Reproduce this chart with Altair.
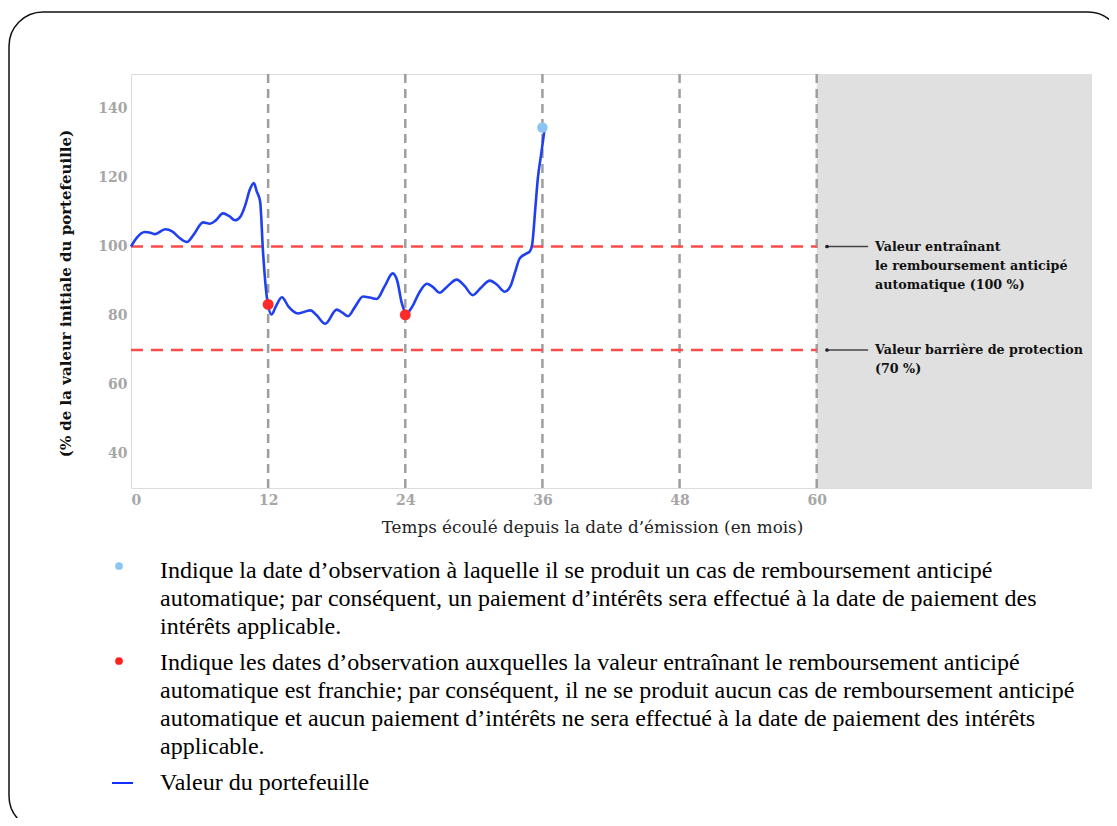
import altair as alt
import pandas as pd

# ---- data ----
months = [0, 0.5, 1.2, 1.7, 2.1, 3.0, 3.6, 4.2, 4.9, 5.5, 6.3, 6.9, 7.4, 8.05, 8.6, 9.1, 9.6,
          10.0, 10.4, 10.75, 11.0, 11.3, 11.55, 11.9, 12.3, 12.7, 13.2, 13.8, 14.6, 15.7, 16.2,
          17.0, 18.0, 18.5, 19.0, 19.6, 20.3, 20.9, 21.5, 22.2, 22.9, 23.3, 23.7, 24.1, 24.6,
          25.2, 25.9, 26.5, 27.0, 27.7, 28.5, 29.2, 29.9, 30.6, 31.4, 32.0, 32.7, 33.2, 33.6,
          34.0, 34.5, 34.9, 35.1, 35.4, 35.6, 35.9, 36.2]
values = [100, 102.5, 104.2, 104.0, 103.6, 105.0, 104.4, 102.6, 101.3, 103.5, 107.0, 106.6, 107.5,
          109.6, 108.8, 107.6, 108.8, 112, 116.5, 118.4, 116, 113, 98.5, 85, 80.3, 82.8, 85.3,
          82.5, 80.6, 81.5, 80.2, 77.6, 81.7, 80.8, 79.8, 82.5, 85.5, 85.2, 84.8, 88.5, 92.2, 90,
          83.5, 80.6, 82.5, 86.5, 89.2, 88, 86.6, 88.5, 90.4, 88.5, 85.9, 88, 90.1, 89, 86.9,
          88.5, 92.5, 96.5, 97.8, 98.6, 100.5, 112, 119.8, 127, 134.3]

red_obs_x = [12, 24]
red_obs_y = [83.2, 80.2]
blue_obs_x = [36]
blue_obs_y = [134.5]

observation_dates = [12, 24, 36, 48, 60]
thresholds = [100, 70]
threshold_labels = ["Valeur entraînant\nle remboursement anticipé\nautomatique (100 %)",
                    "Valeur barrière de protection\n(70 %)"]
leader_start = 60.9
leader_end = 64.5
label_x = 65.1

x_ticks = [0, 12, 24, 36, 48, 60]
y_ticks = [40, 60, 80, 100, 120, 140]
x_domain = [0, 84]
y_domain = [30, 150]
shade_start, shade_end = 60, 84

legend_items = [
    ["Indique la date d\u2019observation à laquelle il se produit un cas de remboursement anticipé",
     "automatique; par conséquent, un paiement d\u2019intérêts sera effectué à la date de paiement des",
     "intérêts applicable."],
    ["Indique les dates d\u2019observation auxquelles la valeur entraînant le remboursement anticipé",
     "automatique est franchie; par conséquent, il ne se produit aucun cas de remboursement anticipé",
     "automatique et aucun paiement d\u2019intérêts ne sera effectué à la date de paiement des intérêts",
     "applicable."],
    ["Valeur du portefeuille"],
]

# ---- layout constants (pixels) ----
W, H = 960, 414
LEG_TOP = 497      # first legend line centre, relative to plot top
LEG_LINE = 28
LEG_GAP = 8
LEG_TEXT_X = 29

line_df = pd.DataFrame({"m": months, "v": values})
red_df = pd.DataFrame({"m": red_obs_x, "v": red_obs_y})
blue_df = pd.DataFrame({"m": blue_obs_x, "v": blue_obs_y})
obs_df = pd.DataFrame({"m": observation_dates})
thr_df = pd.DataFrame({"v": thresholds, "label": threshold_labels,
                       "x0": [0] * len(thresholds), "x1": [shade_start] * len(thresholds),
                       "l0": [leader_start] * len(thresholds), "l1": [leader_end] * len(thresholds),
                       "lx": [label_x] * len(thresholds)})
shade_df = pd.DataFrame({"a": [shade_start], "b": [shade_end]})

rows = []
y = LEG_TOP
item_y = []
for item in legend_items:
    item_y.append(y)
    for ln in item:
        rows.append({"t": ln, "py": y})
        y += LEG_LINE
    y += LEG_GAP
leg_df = pd.DataFrame(rows)

xs = alt.Scale(domain=x_domain, nice=False, zero=False)
ys = alt.Scale(domain=y_domain, nice=False, zero=False)

X = alt.X("m:Q", scale=xs,
          axis=alt.Axis(values=x_ticks, title="Temps écoulé depuis la date d\u2019émission (en mois)",
                        grid=False, ticks=False, domain=False, labelPadding=5,
                        labelFont="DejaVu Serif", labelFontWeight="bold", labelFontSize=14,
                        labelColor="#a6a6a6",
                        titleFont="DejaVu Serif", titleFontWeight="normal", titleFontSize=16.8,
                        titleColor="#222222", titleX=461, titleY=39, titleBaseline="middle",
                        titleAlign="center"))
Y = alt.Y("v:Q", scale=ys,
          axis=alt.Axis(values=y_ticks, title="(% de la valeur initiale du portefeuille)",
                        grid=False, ticks=False, domain=False, labelPadding=4,
                        labelFont="DejaVu Serif", labelFontWeight="bold", labelFontSize=14,
                        labelColor="#a6a6a6",
                        titleFont="DejaVu Serif", titleFontWeight="bold", titleFontSize=15,
                        titleColor="#111111", titleX=-66, titleY=219, titleBaseline="middle",
                        titleAlign="center", titleAngle=-90))

shade = alt.Chart(shade_df).mark_rect(color="#e0e0e0").encode(
    x=alt.X("a:Q", scale=xs), x2="b:Q")

vlines = alt.Chart(obs_df).mark_rule(color="#9e9e9e", strokeWidth=2.5, strokeDash=[9, 6]).encode(
    x=alt.X("m:Q", scale=xs))

hlines = alt.Chart(thr_df).mark_rule(color="#ff4a4a", strokeWidth=2.5, strokeDash=[12, 8]).encode(
    x=alt.X("x0:Q", scale=xs), x2="x1:Q", y=alt.Y("v:Q", scale=ys))

leaders = alt.Chart(thr_df).mark_rule(color="#444444", strokeWidth=1.5).encode(
    x=alt.X("l0:Q", scale=xs), x2="l1:Q", y=alt.Y("v:Q", scale=ys))
leader_dots = alt.Chart(thr_df).mark_point(filled=True, color="#222222", size=14, opacity=1).encode(
    x=alt.X("l0:Q", scale=xs), y=alt.Y("v:Q", scale=ys))
labels = alt.Chart(thr_df).mark_text(align="left", baseline="middle", lineBreak="\n", lineHeight=19,
                                     font="DejaVu Serif", fontWeight="bold", fontSize=12.7,
                                     color="#111111").encode(
    x=alt.X("lx:Q", scale=xs), y=alt.Y("v:Q", scale=ys), text="label:N")

line = alt.Chart(line_df).mark_line(color="#2040f0", strokeWidth=2.6, interpolate="monotone").encode(
    x=X, y=Y)

red_pts = alt.Chart(red_df).mark_point(filled=True, color="#ff2a2a", size=120, opacity=1).encode(
    x=alt.X("m:Q", scale=xs), y=alt.Y("v:Q", scale=ys))
blue_pts = alt.Chart(blue_df).mark_point(filled=True, color="#8cc4f2", size=110, opacity=1).encode(
    x=alt.X("m:Q", scale=xs), y=alt.Y("v:Q", scale=ys))

# legend below the chart
leg_text = alt.Chart(leg_df).mark_text(align="left", baseline="middle", font="Liberation Serif",
                                       fontSize=24, color="#000000").encode(
    x=alt.value(LEG_TEXT_X), y=alt.Y("py:Q", scale=None), text="t:N")
one = pd.DataFrame({"k": [0]})
leg_blue = alt.Chart(one).mark_point(filled=True, color="#8cc4f2", size=60, opacity=1).encode(
    x=alt.value(-12), y=alt.value(item_y[0] - 5))
leg_red = alt.Chart(one).mark_point(filled=True, color="#ff2020", size=60, opacity=1).encode(
    x=alt.value(-12), y=alt.value(item_y[1] - 2))
leg_line = alt.Chart(one).mark_rule(color="#1030ff", strokeWidth=2).encode(
    x=alt.value(-19), x2=alt.value(2), y=alt.value(item_y[2]))

frame = alt.Chart(one).mark_rect(cornerRadius=34, fillOpacity=0, stroke="#111111",
                                 strokeWidth=1.5).encode(
    x=alt.value(-122), x2=alt.value(991), y=alt.value(-62), y2=alt.value(756))

chart = alt.layer(
    shade, vlines, hlines, leaders, leader_dots, labels, line, red_pts, blue_pts,
    leg_text, leg_blue, leg_red, leg_line, frame
).properties(
    width=W, height=H,
    autosize=alt.AutoSizeParams(type="none"),
    padding={"left": 123, "top": 66, "right": 18, "bottom": 330},
).configure_view(stroke="#bdbdbd", strokeWidth=2.5).configure(background="white")

chart.save("out.html", embed_options={"renderer": "svg", "actions": False})
